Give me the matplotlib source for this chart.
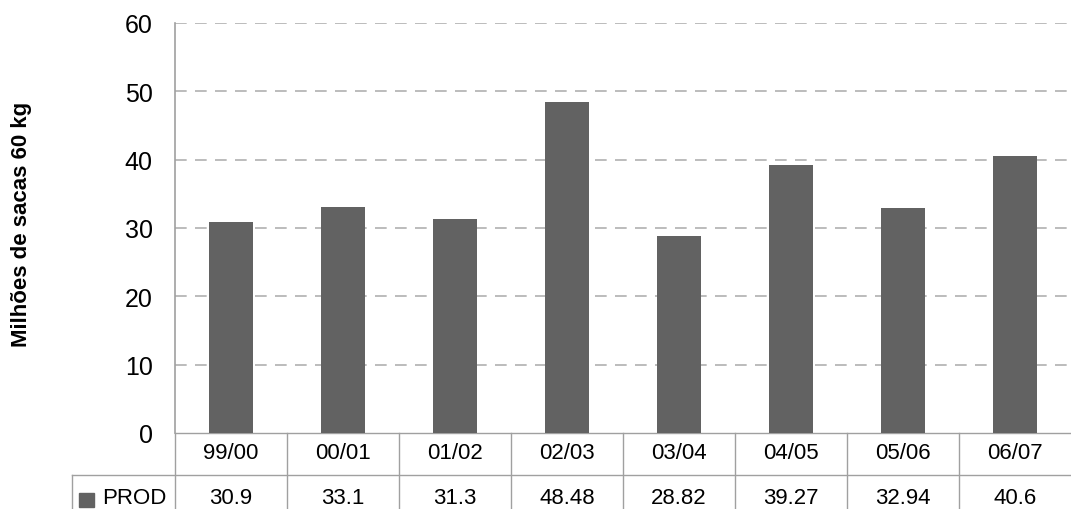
import matplotlib
matplotlib.use("Agg")
import matplotlib.pyplot as plt
from matplotlib.transforms import blended_transform_factory
from matplotlib.patches import Rectangle
from matplotlib import font_manager

categories = ["99/00", "00/01", "01/02", "02/03", "03/04", "04/05", "05/06", "06/07"]
prod = [30.9, 33.1, 31.3, 48.48, 28.82, 39.27, 32.94, 40.6]
value_labels = ["30.9", "33.1", "31.3", "48.48", "28.82", "39.27", "32.94", "40.6"]
series_name = "PROD"
y_ticks = [0, 10, 20, 30, 40, 50, 60]
y_label = "Milhões de sacas 60 kg"

names = {f.name for f in font_manager.fontManager.ttflist}
base = "Liberation Sans" if "Liberation Sans" in names else "DejaVu Sans"
plt.rcParams['font.family'] = [base, 'DejaVu Sans']

W, H = 1071, 510
fig = plt.figure(figsize=(W / 100, H / 100), dpi=100)
L, R, T, B = 175, 1071, 24, 434
ax = fig.add_axes([L / W, 1 - B / H, (R - L) / W, (B - T) / H])

bar_color = "#626262"
grid_color = "#b0b0b0"
line_color = "#a0a0a0"
n = len(categories)
x = list(range(n))
ax.bar(x, prod, width=0.4, color=bar_color, zorder=3)
ax.set_xlim(-0.5, n - 0.5)
ax.set_ylim(0, 60)
ax.set_yticks(y_ticks)
ax.set_yticklabels([str(v) for v in y_ticks], fontsize=18)
ax.tick_params(axis='y', length=0, pad=16)
ax.set_xticks([])
for s in ["top", "right", "bottom"]:
    ax.spines[s].set_visible(False)
ax.spines["left"].set_color(line_color)
ax.spines["left"].set_linewidth(1.2)
for v in y_ticks[1:]:
    ax.axhline(v, color=grid_color, lw=1.2, ls=(0, (7, 5)), zorder=1)

# Data table below the axes
ph = B - T
def fy(py):  # pixel y to axes fraction
    return (B - py) / ph
def fx(px):
    return (px - L) / (R - L) * n - 0.5

tr = blended_transform_factory(ax.transData, ax.transAxes)
kw = dict(color=line_color, lw=1.0, clip_on=False, transform=tr)
ax.plot([-0.5, n - 0.5], [0, 0], **kw)
ax.plot([fx(72), n - 0.5], [fy(476), fy(476)], **kw)
for i in range(n):
    ax.plot([i - 0.5, i - 0.5], [0, fy(H + 2)], **kw)
ax.plot([fx(72), fx(72)], [fy(476), fy(H + 2)], **kw)

for i, c in enumerate(categories):
    ax.text(i, fy(454), c, transform=tr, ha="center", va="center", fontsize=16)
    ax.text(i, fy(499), value_labels[i], transform=tr, ha="center", va="center", fontsize=16)

fig.patches.append(Rectangle((79 / W, 1 - 508 / H), 15 / W, 14 / H,
                             transform=fig.transFigure, color=bar_color))
fig.text(102 / W, 1 - 499 / H, series_name, ha="left", va="center", fontsize=16)

fig.text(22 / W, 1 - 224 / H, y_label, rotation=90, ha="center", va="center",
         fontsize=16, fontweight="bold")

fig.savefig("out.png", dpi=100)
